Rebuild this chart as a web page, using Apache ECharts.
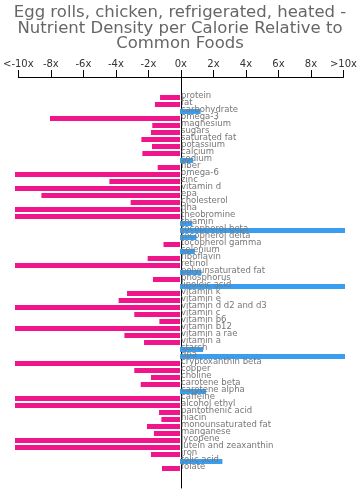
<!DOCTYPE html>
<html><head><meta charset="utf-8">
<script src="https://cdn.jsdelivr.net/npm/echarts@6/dist/echarts.min.js"></script>
<style>html,body{margin:0;padding:0;background:#fff}#c{width:360px;height:498px}</style>
</head><body><div id="c"></div>
<script>
var categories = ["protein","fat","carbohydrate","omega-3","magnesium","sugars","saturated fat","potassium","calcium","sodium","fiber","omega-6","zinc","vitamin d","epa","cholesterol","dha","theobromine","thiamin","tocopherol beta","tocopherol delta","tocopherol gamma","selenium","riboflavin","retinol","polyunsaturated fat","phosphorus","linoleic acid","vitamin k","vitamin e","vitamin d d2 and d3","vitamin c","vitamin b6","vitamin b12","vitamin a rae","vitamin a","starch","dpa","cryptoxanthin beta","copper","choline","carotene beta","carotene alpha","caffeine","alcohol ethyl","pantothenic acid","niacin","monounsaturated fat","manganese","lycopene","lutein and zeaxanthin","iron","folic acid","folate"];
var values = [-1.21,-1.52,1.25,-7.88,-1.68,-1.76,-2.34,-1.70,-2.28,0.8,-1.35,-10,-4.28,-10,-8.4,-2.99,-10,-10,0.75,10,1.0,-1.0,0.9,-1.96,-10,1.3,-1.64,10,-3.21,-3.72,-10,-2.77,-1.25,-10,-3.37,-2.18,1.4,10,-10,-2.77,-1.76,-2.38,1.58,-10,-10,-1.27,-1.13,-2.0,-1.58,-10,-10,-1.76,2.57,-1.09];
var tickLabels = {"-10":"<-10x","-8":"-8x","-6":"-6x","-4":"-4x","-2":"-2x","0":"0x","2":"2x","4":"4x","6":"6x","8":"8x","10":">10x"};
var titleLines = ["Egg rolls, chicken, refrigerated, heated -","Nutrient Density per Calorie Relative to","Common Foods"];

var chart = echarts.init(document.getElementById('c'), null, {renderer:'canvas'});
var FONT = 'DejaVu Sans';
chart.setOption({
  animation:false,
  title:{text:titleLines.join('\n'), left:'center', top:0,
    textStyle:{fontFamily:FONT, fontSize:16.5, fontWeight:'normal', color:'#666', lineHeight:15.5}},
  grid:[
    {left:15, right:15, top:77, bottom:10},
    {left:15, right:15, top:94, height:378}
  ],
  xAxis:[
    {gridIndex:0, type:'value', position:'top', min:-10, max:10, interval:2,
      axisLine:{show:true, onZero:false, lineStyle:{color:'#000', width:1}},
      axisTick:{show:true, length:7, lineStyle:{color:'#000'}},
      splitLine:{show:false},
      axisLabel:{margin:8, fontFamily:FONT, fontSize:10, color:'#333', formatter:function(v){return tickLabels[String(v)];}}},
    {gridIndex:1, type:'value', min:-10, max:10, interval:2, show:false}
  ],
  yAxis:[
    {gridIndex:0, type:'value', min:0, max:1, axisLine:{show:true, onZero:true, lineStyle:{color:'#000', width:1}},
      axisTick:{show:false}, axisLabel:{show:false}, splitLine:{show:false}},
    {gridIndex:1, type:'category', inverse:true, data:categories, show:false}
  ],
  series:[{
    type:'bar', xAxisIndex:1, yAxisIndex:1, barWidth:5, z:1,
    data:values.map(function(v){return {value:v, itemStyle:{color: v<0 ? '#f0158a' : '#3a9ef0'},
      label:{position: v<0 ? 'right' : 'insideLeft'}};}),
    label:{show:true, distance:1, offset:[0,-2], fontFamily:FONT, fontSize:8.5, color:'#777',
      formatter:function(p){return p.name;}}
  }]
});
</script></body></html>
